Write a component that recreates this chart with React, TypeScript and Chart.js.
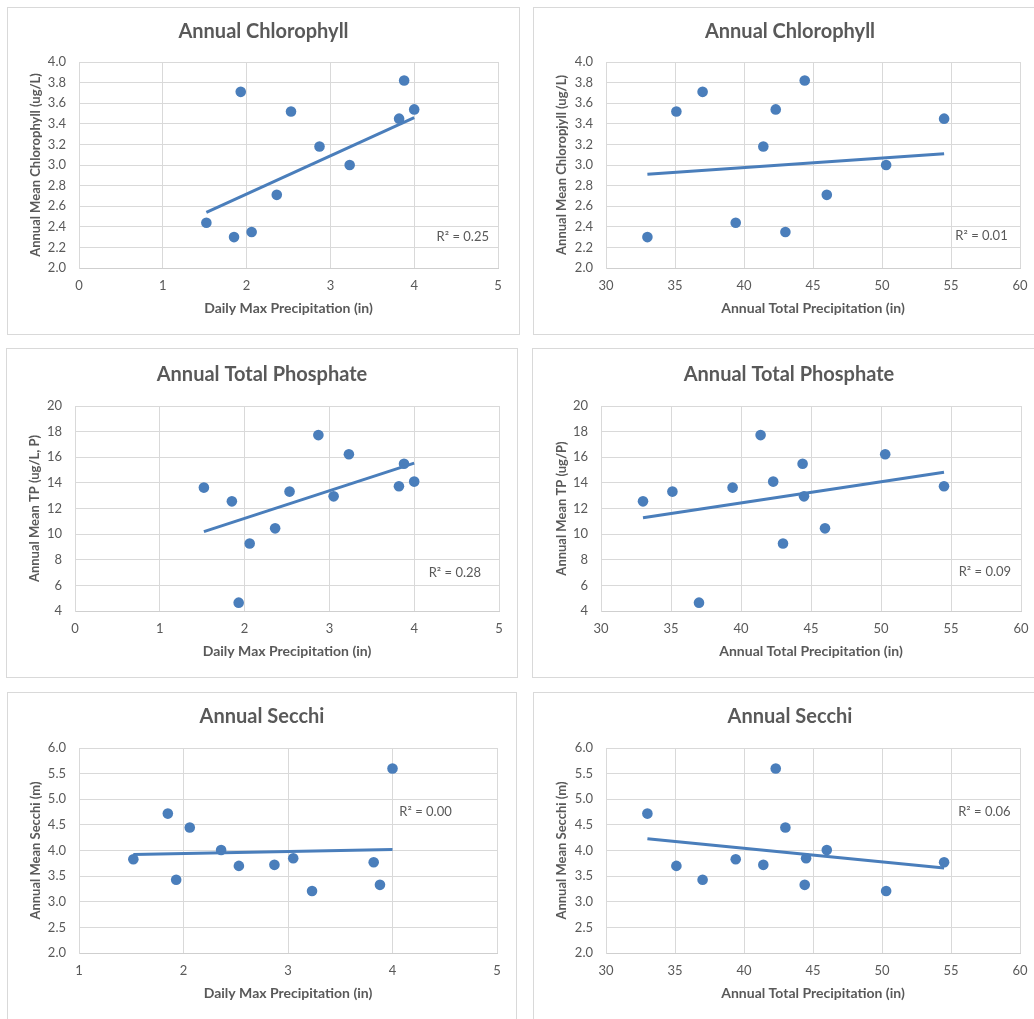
import React, { useEffect, useRef } from "react";
import { Chart, registerables } from "chart.js";

Chart.register(...registerables);

// ---- Data (one entry per year) ----
const dailyMaxPrecip = [1.85, 2.53, 1.93, 1.52, 2.87, 4.0, 2.06, 3.88, 3.05, 2.36, 3.23, 3.82];
const annualTotalPrecip = [33.0, 35.1, 37.0, 39.4, 41.4, 42.3, 43.0, 44.4, 44.5, 46.0, 50.3, 54.5];
const chlorophyll = [2.3, 3.52, 3.71, 2.44, 3.18, 3.54, 2.35, 3.82, null, 2.71, 3.0, 3.45];
const totalPhosphate = [12.56, 13.32, 4.65, 13.63, 17.73, 14.1, 9.27, 15.49, 12.95, 10.45, 16.24, 13.74];
const secchi = [4.72, 3.7, 3.43, 3.83, 3.72, 5.6, 4.45, 3.33, 3.85, 4.01, 3.21, 3.77];

// Trendline end values
const trendDailyRange = [1.52, 4.0];
const trendTotalRange = [33.0, 54.5];
const chlTrendDaily = [2.54, 3.46];
const chlTrendTotal = [2.91, 3.11];
const tpTrendDaily = [10.19, 15.54];
const tpTrendTotal = [11.28, 14.83];
const secchiTrendDaily = [3.92, 4.02];
const secchiTrendTotal = [4.23, 3.66];

const r2Labels = ["R² = 0.25", "R² = 0.01", "R² = 0.28", "R² = 0.09", "R² = 0.00", "R² = 0.06"];
const chartTitles = [
  "Annual Chlorophyll",
  "Annual Chlorophyll",
  "Annual Total Phosphate",
  "Annual Total Phosphate",
  "Annual Secchi",
  "Annual Secchi",
];
const xTitles = [
  "Daily Max Precipitation (in)",
  "Annual Total Precipitation (in)",
  "Daily Max Precipitation (in)",
  "Annual Total Precipitation (in)",
  "Daily Max Precipitation (in)",
  "Annual Total Precipitation (in)",
];
const yTitles = [
  "Annual Mean Chlorophyll (ug/L)",
  "Annual Mean Chloropjyll (ug/L)",
  "Annual Mean TP (ug/L, P)",
  "Annual Mean TP (ug/P)",
  "Annual Mean Secchi (m)",
  "Annual Mean Secchi (m)",
];
const xRangesDaily = [0, 5, 1];
const xRangesDailySecchi = [1, 5, 1];
const xRangesTotal = [30, 60, 5];
const yRangeChl = [2, 4, 0.2];
const yRangeTp = [4, 20, 2];
const yRangeSecchi = [2, 6, 0.5];

const BLUE = "#4a7ebb";
const GRAY = "#595959";
const GRID = "#d9d9d9";
const FONT = "Lato";

type Layout = {
  left: number; top: number; w: number; h: number;
  yW: number; xH: number; padR: number;
  titleTop: number; titleBottom: number;
  yTitlePad: number; xTitlePad: number;
  r2: [number, number];
};

const layouts: Layout[] = [
  { left: 7, top: 7, w: 513, h: 328, yW: 71, xH: 66, padR: 21, titleTop: 12.0, titleBottom: 18.0, yTitlePad: 20.2, xTitlePad: 17.6, r2: [0.916, 0.85] },
  { left: 533, top: 7, w: 514, h: 328, yW: 72, xH: 66, padR: 26, titleTop: 11.7, titleBottom: 18.3, yTitlePad: 20.5, xTitlePad: 17.6, r2: [0.907, 0.843] },
  { left: 6, top: 348, w: 512, h: 330, yW: 68, xH: 66, padR: 18, titleTop: 13.3, titleBottom: 19.7, yTitlePad: 20.2, xTitlePad: 16.9, r2: [0.896, 0.812] },
  { left: 532, top: 348, w: 514, h: 330, yW: 68, xH: 66, padR: 24, titleTop: 13.3, titleBottom: 19.7, yTitlePad: 20.9, xTitlePad: 16.9, r2: [0.914, 0.807] },
  { left: 7, top: 692, w: 510, h: 330, yW: 71, xH: 68, padR: 19, titleTop: 11.7, titleBottom: 19.3, yTitlePad: 19.9, xTitlePad: 19.3, r2: [0.829, 0.312] },
  { left: 533, top: 692, w: 514, h: 330, yW: 72, xH: 68, padR: 26, titleTop: 11.7, titleBottom: 19.3, yTitlePad: 20.5, xTitlePad: 19.3, r2: [0.914, 0.312] },
];

type PanelSpec = {
  xs: number[];
  ys: (number | null)[];
  trendX: number[];
  trendY: number[];
  xRange: number[];
  yRange: number[];
  yDecimals: number;
};

const panels: PanelSpec[] = [
  { xs: dailyMaxPrecip, ys: chlorophyll, trendX: trendDailyRange, trendY: chlTrendDaily, xRange: xRangesDaily, yRange: yRangeChl, yDecimals: 1 },
  { xs: annualTotalPrecip, ys: chlorophyll, trendX: trendTotalRange, trendY: chlTrendTotal, xRange: xRangesTotal, yRange: yRangeChl, yDecimals: 1 },
  { xs: dailyMaxPrecip, ys: totalPhosphate, trendX: trendDailyRange, trendY: tpTrendDaily, xRange: xRangesDaily, yRange: yRangeTp, yDecimals: 0 },
  { xs: annualTotalPrecip, ys: totalPhosphate, trendX: trendTotalRange, trendY: tpTrendTotal, xRange: xRangesTotal, yRange: yRangeTp, yDecimals: 0 },
  { xs: dailyMaxPrecip, ys: secchi, trendX: trendDailyRange, trendY: secchiTrendDaily, xRange: xRangesDailySecchi, yRange: yRangeSecchi, yDecimals: 1 },
  { xs: annualTotalPrecip, ys: secchi, trendX: trendTotalRange, trendY: secchiTrendTotal, xRange: xRangesTotal, yRange: yRangeSecchi, yDecimals: 1 },
];

function Panel({ index }: { index: number }) {
  const ref = useRef<HTMLCanvasElement | null>(null);
  const lay = layouts[index];
  const spec = panels[index];
  const cw = lay.w - 2;
  const ch = lay.h - 2;

  useEffect(() => {
    if (!ref.current) return;
    const points = spec.xs
      .map((x, i) => ({ x, y: spec.ys[i] }))
      .filter((p) => p.y !== null) as { x: number; y: number }[];
    const trend = spec.trendX.map((x, i) => ({ x, y: spec.trendY[i] }));

    const r2Plugin = {
      id: "r2label",
      afterDatasetsDraw(chart: any) {
        const { ctx, chartArea } = chart;
        ctx.save();
        ctx.font = `13px ${FONT}`;
        ctx.fillStyle = GRAY;
        ctx.textAlign = "center";
        ctx.textBaseline = "middle";
        ctx.fillText(
          r2Labels[index],
          chartArea.left + lay.r2[0] * (chartArea.right - chartArea.left),
          chartArea.top + lay.r2[1] * (chartArea.bottom - chartArea.top)
        );
        ctx.restore();
      },
    };

    const chart = new Chart(ref.current, {
      type: "scatter",
      data: {
        datasets: [
          {
            type: "line",
            data: trend,
            borderColor: BLUE,
            borderWidth: 3,
            pointRadius: 0,
            showLine: true,
            fill: false,
            borderCapStyle: "butt",
          } as any,
          {
            data: points,
            backgroundColor: BLUE,
            borderColor: BLUE,
            pointRadius: 5.3,
            borderWidth: 0,
          },
        ],
      },
      options: {
        responsive: false,
        animation: false,
        devicePixelRatio: 1,
        layout: { padding: 0 },
        plugins: {
          legend: { display: false },
          tooltip: { enabled: false },
          title: {
            display: true,
            text: chartTitles[index],
            color: GRAY,
            font: { family: FONT, size: 20, weight: "bold", lineHeight: 1.2 },
            padding: { top: lay.titleTop, bottom: lay.titleBottom },
          },
        },
        scales: {
          x: {
            type: "linear",
            min: spec.xRange[0],
            max: spec.xRange[1],
            afterFit: (s: any) => {
              s.height = lay.xH;
            },
            ticks: {
              stepSize: spec.xRange[2],
              color: GRAY,
              padding: 10,
              font: { family: FONT, size: 13, lineHeight: 1.2 },
              callback: (v: any) => String(Math.round(Number(v))),
            },
            grid: { color: GRID, lineWidth: 1, drawTicks: false },
            border: { color: "#cfcfcf", width: 1 },
            title: {
              display: true,
              text: xTitles[index],
              color: GRAY,
              font: { family: FONT, size: 14, weight: "bold", lineHeight: 1.2 },
              padding: { top: 0, bottom: lay.xTitlePad },
            },
          },
          y: {
            type: "linear",
            min: spec.yRange[0],
            max: spec.yRange[1],
            afterFit: (s: any) => {
              s.width = lay.yW;
            },
            ticks: {
              stepSize: spec.yRange[2],
              color: GRAY,
              padding: 13,
              font: { family: FONT, size: 13, lineHeight: 1.2 },
              callback: (v: any) => Number(v).toFixed(spec.yDecimals),
            },
            grid: { color: GRID, lineWidth: 1, drawTicks: false },
            border: { color: GRID, width: 1 },
            title: {
              display: true,
              text: yTitles[index],
              color: GRAY,
              font: { family: FONT, size: 13, weight: "bold", lineHeight: 1.2 },
              padding: { top: lay.yTitlePad, bottom: 0 },
            },
          },
          // invisible spacer on the right so the title stays centred on the whole panel
          spacer: {
            type: "linear",
            position: "right",
            min: 0,
            max: 1,
            afterFit: (s: any) => {
              s.width = lay.padR;
            },
            ticks: { display: false },
            grid: { display: false, drawTicks: false },
            border: { display: false },
            title: { display: false },
          },
        },
      } as any,
      plugins: [r2Plugin],
    });
    return () => chart.destroy();
  }, [index]);

  return (
    <div
      style={{
        position: "absolute",
        left: lay.left,
        top: lay.top,
        width: lay.w,
        height: lay.h,
        boxSizing: "border-box",
        border: "1px solid #d9d9d9",
        background: "#ffffff",
      }}
    >
      <canvas
        ref={ref}
        width={cw}
        height={ch}
        style={{ position: "absolute", left: 0, top: 0, width: cw, height: ch, display: "block" }}
      />
    </div>
  );
}

export default function App() {
  return (
    <div
      style={{
        position: "absolute",
        left: 0,
        top: 0,
        width: 1034,
        height: 1019,
        overflow: "hidden",
        background: "#ffffff",
      }}
    >
      {layouts.map((_, i) => (
        <Panel key={i} index={i} />
      ))}
    </div>
  );
}
